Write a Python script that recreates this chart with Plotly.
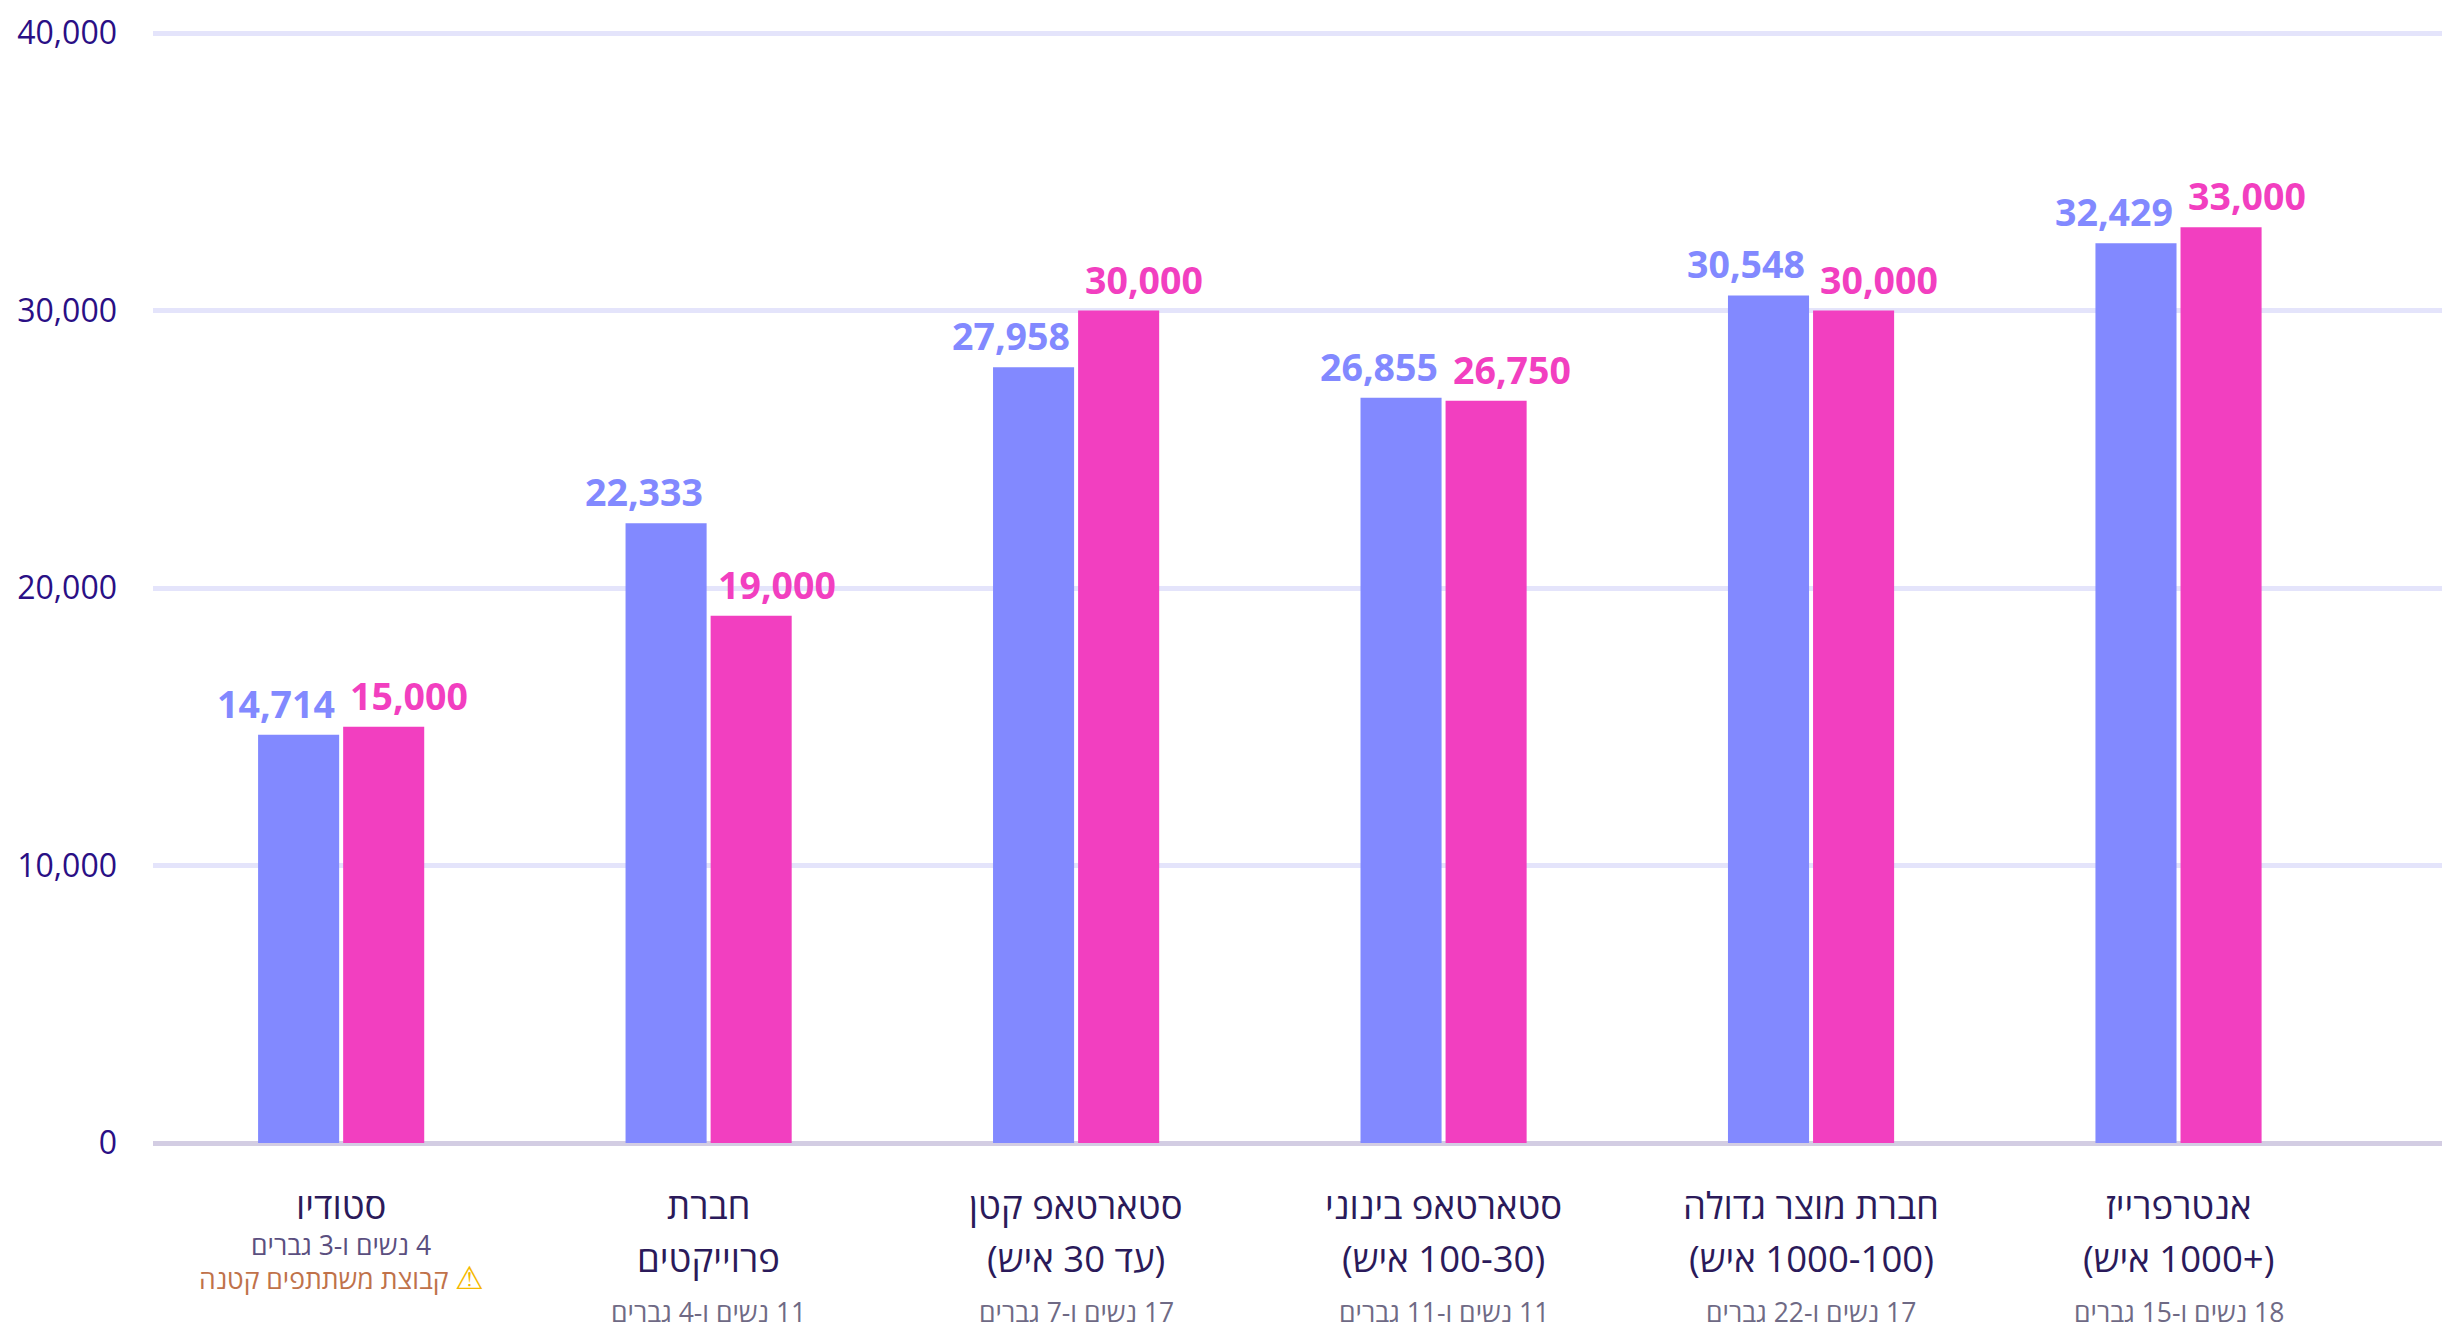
import plotly.graph_objects as go

RLE, PDF = "\u202b", "\u202c"

keys = ["סטודיו", "חברת פרוייקטים", "סטארטאפ קטן", "סטארטאפ בינוני", "חברת מוצר גדולה", "אנטרפרייז"]
line1 = ["סטודיו", "חברת", "סטארטאפ קטן", "סטארטאפ בינוני", "חברת מוצר גדולה", "אנטרפרייז"]
line2 = ["", "פרוייקטים", "(עד 30 איש)", "(100-30 איש)", "(1000-100 איש)", "(+1000 איש)"]
counts = ["4 נשים ו-3 גברים", "11 נשים ו-4 גברים", "17 נשים ו-7 גברים",
          "11 נשים ו-11 גברים", "17 נשים ו-22 גברים", "18 נשים ו-15 גברים"]
warning = "קבוצת משתתפים קטנה"
mean_vals = [14714, 22333, 27958, 26855, 30548, 32429]
median_vals = [15000, 19000, 30000, 26750, 30000, 33000]
y_ticks = [0, 10000, 20000, 30000, 40000]

BLUE, PINK = "#8289FF", "#F23FC0"
FONT = "Open Sans, Noto Sans, Liberation Sans, sans-serif"

fig = go.Figure()
fig.add_bar(x=keys, y=mean_vals, name="ממוצע", marker=dict(color=BLUE, line_width=0))
fig.add_bar(x=keys, y=median_vals, name="חציון", marker=dict(color=PINK, line_width=0))

ann = []
for k, l1, l2, c, a, b in zip(keys, line1, line2, counts, mean_vals, median_vals):
    ann.append(dict(x=k, y=a, yref="y", xref="x", text=f"{a:,}", showarrow=False, xanchor="right", yanchor="bottom",
                    xshift=-4, yshift=4, font=dict(family=FONT, size=37.5, color=BLUE, weight=700)))
    ann.append(dict(x=k, y=b, yref="y", xref="x", text=f"{b:,}", showarrow=False, xanchor="left", yanchor="bottom",
                    xshift=7, yshift=4, font=dict(family=FONT, size=37.5, color=PINK, weight=700)))
    ann.append(dict(x=k, y=0, yref="paper", xref="x", text=RLE + l1 + PDF, showarrow=False, yanchor="middle",
                    yshift=-62, font=dict(family=FONT, size=36.5, color="#2B1A5A")))
    if l2:
        ann.append(dict(x=k, y=0, yref="paper", xref="x", text=RLE + l2 + PDF, showarrow=False, yanchor="middle",
                        yshift=-115, font=dict(family=FONT, size=36.5, color="#2B1A5A")))
        ann.append(dict(x=k, y=0, yref="paper", xref="x", text=RLE + c + PDF, showarrow=False, yanchor="middle",
                        yshift=-169, font=dict(family=FONT, size=26.5, color="#6F6A85")))
    else:
        ann.append(dict(x=k, y=0, yref="paper", xref="x", text=RLE + c + PDF, showarrow=False, yanchor="middle",
                        yshift=-102, font=dict(family=FONT, size=26.5, color="#5B4F80")))
        ann.append(dict(x=k, y=0, yref="paper", xref="x",
                        text=RLE + "<span style='color:#F5B800;font-size:32px'>⚠</span> " + warning + PDF,
                        showarrow=False, yanchor="middle", yshift=-133,
                        font=dict(family=FONT, size=26.5, color="#C0724A")))

fig.update_layout(
    width=2442, height=1330, autosize=False,
    margin=dict(l=153, r=0, t=32, b=187, pad=0),
    paper_bgcolor="white", plot_bgcolor="white",
    barmode="group", bargap=0.537, bargroupgap=0.047,
    showlegend=False, annotations=ann,
    font=dict(family=FONT),
    xaxis=dict(type="category", categoryorder="array", categoryarray=keys, range=[-0.512, 5.717],
               showticklabels=False, showgrid=False, zeroline=False, ticks=""),
    yaxis=dict(range=[0, 40040], tickvals=y_ticks, tickformat=",d", showline=False,
               gridcolor="#E4E4FB", gridwidth=5, zeroline=True, zerolinecolor="#D3CDE3", zerolinewidth=5,
               ticks="", ticklabelstandoff=35, tickfont=dict(family=FONT, size=32, color="#2A0F85")),
)
fig.write_html("out.html", config={"displayModeBar": False},
               post_script="document.body.style.margin='0';document.documentElement.style.overflow='hidden';")
